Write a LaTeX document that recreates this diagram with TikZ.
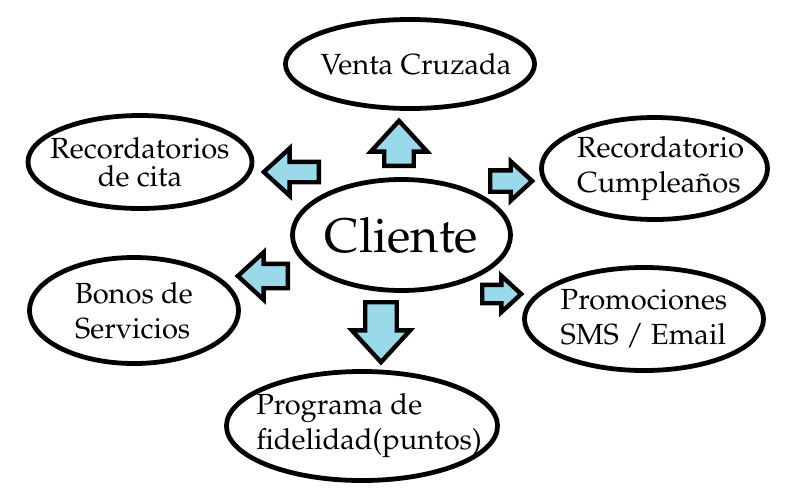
\documentclass[tikz,border=0pt]{standalone}
\usepackage[T1]{fontenc}
\usepackage{mathpazo}
\usepackage{tikz}
\usetikzlibrary{positioning}
\usetikzlibrary{shapes.geometric}
\usetikzlibrary{shapes.arrows}
\definecolor{celeste}{HTML}{99D9EA}

\begin{document}
\begin{tikzpicture}[x=0.025cm,y=-0.025cm,
		burbuja/.style={draw,ellipse,line width=3.4pt,inner sep=-25pt,align=left,font=\fontsize{20.7}{24.8}\selectfont},
		flecha/.style={draw,single arrow,fill=celeste,line width=3.1pt,anchor=tail,inner sep=0pt,minimum width=0pt,text depth=0pt,single arrow tip angle=85,single arrow head indent=0pt}]
		\useasboundingbox (0,0) rectangle (805,502);
		\node[burbuja,minimum width=5.45cm,minimum height=2.775cm,font=\fontsize{34.5}{40}\selectfont] at (401.5,235) (cliente) {Cliente};
		\node[burbuja,minimum width=6.225cm,minimum height=2.225cm] at (410,64) (venta) {\hspace*{0.3cm}Venta Cruzada};
		\node[burbuja,minimum width=5.6cm,minimum height=2.325cm,align=center,font=\fontsize{20.7}{19.6}\selectfont] at (140,162) (cita) {Recordatorios\\de cita};
		\node[burbuja,minimum width=5.225cm,minimum height=2.65cm] at (134,310.5) (bonos) {Bonos de\\Servicios};
		\node[burbuja,minimum width=5.65cm,minimum height=2.55cm] at (654.5,168.5) (cumple) {\hspace*{0.3cm}Recordatorio\\\hspace*{0.3cm}Cumplea\~nos};
		\node[burbuja,minimum width=5.975cm,minimum height=2.575cm] at (644,319) (promo) {Promociones\\SMS / Email};
		\node[burbuja,minimum width=6.775cm,minimum height=2.725cm] at (362,426) (programa) {\hspace*{0.35cm}Programa de\\\hspace*{0.35cm}fidelidad(puntos)};
		\node[flecha,rotate=90,minimum height=1.125cm,text height=0.625cm,single arrow head extend=0.3375cm] at (399,168) (fVenta) {};
		\node[flecha,rotate=180,minimum height=1.375cm,text height=0.4cm,single arrow head extend=0.3375cm] at (321,172) (fCita) {};
		\node[flecha,rotate=0,minimum height=1.05cm,text height=0.425cm,single arrow head extend=0.225cm] at (488,181) (fCumple) {};
		\node[flecha,rotate=180,minimum height=1.25cm,text height=0.5cm,single arrow head extend=0.2875cm] at (290,276) (fBonos) {};
		\node[flecha,rotate=0,minimum height=0.975cm,text height=0.35cm,single arrow head extend=0.225cm] at (480,294) (fPromo) {};
		\node[flecha,rotate=-90,minimum height=1.5cm,text height=0.675cm,single arrow head extend=0.3375cm] at (381,300) (fPrograma) {};
	\end{tikzpicture}
\end{document}
